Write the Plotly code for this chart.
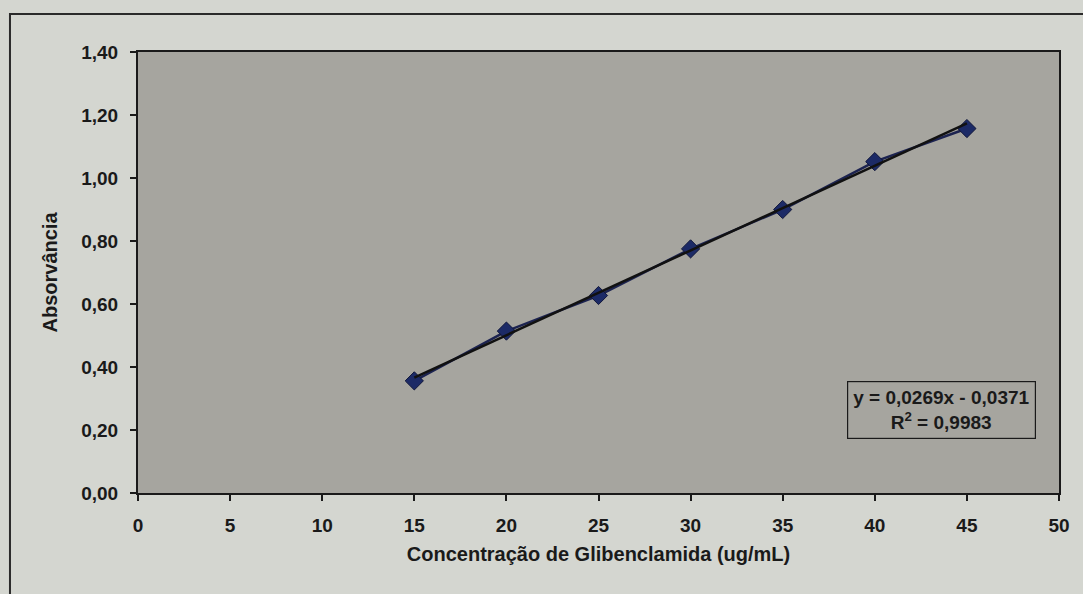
import plotly.graph_objects as go

conc = [15, 20, 25, 30, 35, 40, 45]
absorb = [0.356, 0.514, 0.627, 0.775, 0.900, 1.052, 1.157]
slope = 0.0269
intercept = -0.0371
eq_text = "y = 0,0269x - 0,0371<br>R<sup>2</sup> = 0,9983"
x_ticks = [0, 5, 10, 15, 20, 25, 30, 35, 40, 45, 50]
y_ticks = [0.0, 0.2, 0.4, 0.6, 0.8, 1.0, 1.2, 1.4]

trend_x = [conc[0], conc[-1]]
trend_y = [slope * v + intercept for v in trend_x]

fig = go.Figure()
fig.add_trace(go.Scatter(
    x=conc, y=absorb, mode="lines+markers",
    line=dict(color="#1c2350", width=2.5),
    marker=dict(symbol="diamond", size=14, color="#1c2a66",
                line=dict(color="#10163a", width=1)),
    showlegend=False, hoverinfo="skip"))
fig.add_trace(go.Scatter(
    x=trend_x, y=trend_y, mode="lines",
    line=dict(color="#111111", width=2.5),
    showlegend=False, hoverinfo="skip"))

font_family = "Liberation Sans, Arial, sans-serif"

fig.update_layout(
    width=1083, height=594,
    margin=dict(l=138, r=24, t=52, b=101),
    paper_bgcolor="#d4d6d0",
    plot_bgcolor="#a6a59f",
    separators=", ",
    font=dict(family=font_family, color="#1a1a1a"),
    xaxis=dict(
        range=[0, 50], tickvals=x_ticks, showgrid=False, zeroline=False,
        showline=True, linecolor="#1a1a1a", linewidth=2, mirror=True,
        ticks="outside", ticklen=6, tickwidth=1.5, tickcolor="#1a1a1a",
        ticklabelstandoff=8,
        tickfont=dict(size=19, family=font_family, color="#1a1a1a", weight="bold"),
        title=dict(text="Concentração de Glibenclamida (ug/mL)",
                   font=dict(size=20, family=font_family, weight="bold"), standoff=12),
    ),
    yaxis=dict(
        range=[0, 1.4], tickvals=y_ticks, tickformat=".2f",
        showgrid=False, zeroline=False,
        showline=True, linecolor="#1a1a1a", linewidth=2, mirror=True,
        ticks="outside", ticklen=6, tickwidth=1.5, tickcolor="#1a1a1a",
        ticklabelstandoff=8,
        tickfont=dict(size=19, family=font_family, color="#1a1a1a", weight="bold"),
        title=dict(text="Absorvância",
                   font=dict(size=20, family=font_family, weight="bold"), standoff=18),
    ),
    annotations=[dict(
        x=43.6, y=0.265, xref="x", yref="y", xanchor="center", yanchor="middle",
        text=eq_text, showarrow=False, align="center",
        font=dict(size=19, family=font_family, color="#1a1a1a", weight="bold"),
        bordercolor="#1a1a1a", borderwidth=1.2, borderpad=5,
        bgcolor="rgba(0,0,0,0)",
    )],
    shapes=[dict(
        type="rect", xref="paper", yref="paper",
        x0=-0.139, x1=1.1, y0=-0.3, y1=1.086,
        line=dict(color="#2a2a2a", width=2), layer="below",
    )],
)

fig.write_html(
    "out.html",
    config={"displayModeBar": False},
    post_script="document.body.style.margin='0';document.body.style.padding='0';"
                "document.body.style.background='#d4d6d0';"
                "document.documentElement.style.overflow='hidden';",
)
